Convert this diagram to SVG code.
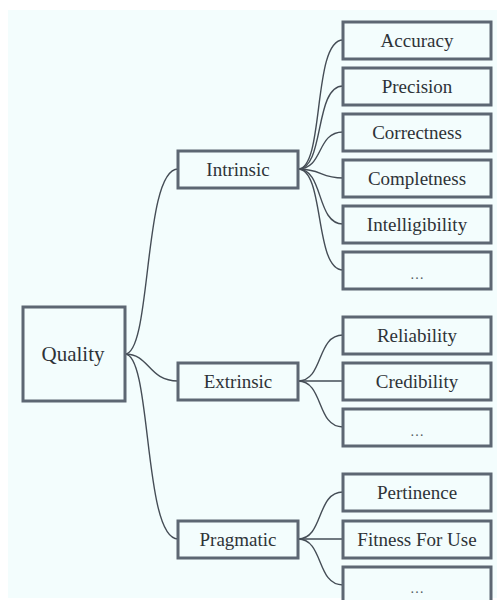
<svg xmlns="http://www.w3.org/2000/svg" width="497" height="600" viewBox="0 0 497 600">
<style>
.box{fill:#f3fdfd;stroke:#5d6773;stroke-width:3}
.t{font-family:'Liberation Serif','Times New Roman','DejaVu Serif',serif;font-size:19px;fill:#2e3338;text-anchor:middle}
.d{font-size:14px;fill:#555b62}
.c{fill:none;stroke:#454d56;stroke-width:1.4}
</style>
<rect x="0" y="0" width="497" height="600" fill="#ffffff"/>
<rect x="8" y="10" width="489" height="588" fill="#f3fdfd"/>
<g id="connectors">
<path class="c" d="M125,354 C152,354 143,169 178,169"/>
<path class="c" d="M125,354 C150,354 148,381 178,381"/>
<path class="c" d="M125,354 C152,354 143,539 178,539"/>
<path class="c" d="M298,169 C325,169 312,40 343,40"/>
<path class="c" d="M298,169 C325,169 314,86 343,86"/>
<path class="c" d="M298,169 C324,169 316,132 343,132"/>
<path class="c" d="M298,169 C322,169 320,178 343,178"/>
<path class="c" d="M298,169 C324,169 316,224 343,224"/>
<path class="c" d="M298,169 C325,169 314,270 343,270"/>
<path class="c" d="M298,381 C324,381 316,335 343,335"/>
<path class="c" d="M298,381 C322,381 320,381 343,381"/>
<path class="c" d="M298,381 C324,381 316,427 343,427"/>
<path class="c" d="M298,539 C324,539 316,492 343,492"/>
<path class="c" d="M298,539 C322,539 320,539 343,539"/>
<path class="c" d="M298,539 C324,539 316,585 343,585"/>
</g>
<g id="quality"><rect class="box" x="23" y="307" width="102" height="94"/><text class="t" x="73" y="361" style="font-size:21px">Quality</text></g>
<g id="intrinsic"><rect class="box" x="178" y="151" width="120" height="37"/><text class="t" x="238" y="176">Intrinsic</text></g>
<g id="extrinsic"><rect class="box" x="178" y="363" width="120" height="37"/><text class="t" x="238" y="388">Extrinsic</text></g>
<g id="pragmatic"><rect class="box" x="178" y="521" width="120" height="37"/><text class="t" x="238" y="546">Pragmatic</text></g>
<g id="accuracy"><rect class="box" x="343" y="22" width="148" height="37"/><text class="t" x="417" y="47">Accuracy</text></g>
<g id="precision"><rect class="box" x="343" y="68" width="148" height="37"/><text class="t" x="417" y="93">Precision</text></g>
<g id="correctness"><rect class="box" x="343" y="114" width="148" height="37"/><text class="t" x="417" y="139">Correctness</text></g>
<g id="completness"><rect class="box" x="343" y="160" width="148" height="37"/><text class="t" x="417" y="185">Completness</text></g>
<g id="intelligibility"><rect class="box" x="343" y="206" width="148" height="37"/><text class="t" x="417" y="231">Intelligibility</text></g>
<g id="intrinsic-more"><rect class="box" x="343" y="252" width="148" height="37"/><text class="t d" x="417" y="279">…</text></g>
<g id="reliability"><rect class="box" x="343" y="317" width="148" height="37"/><text class="t" x="417" y="342">Reliability</text></g>
<g id="credibility"><rect class="box" x="343" y="363" width="148" height="37"/><text class="t" x="417" y="388">Credibility</text></g>
<g id="extrinsic-more"><rect class="box" x="343" y="409" width="148" height="37"/><text class="t d" x="417" y="436">…</text></g>
<g id="pertinence"><rect class="box" x="343" y="474" width="148" height="37"/><text class="t" x="417" y="499">Pertinence</text></g>
<g id="fitness"><rect class="box" x="343" y="521" width="148" height="37"/><text class="t" x="417" y="546">Fitness For Use</text></g>
<g id="pragmatic-more"><rect class="box" x="343" y="567" width="148" height="37"/><text class="t d" x="417" y="593">…</text></g>
</svg>
